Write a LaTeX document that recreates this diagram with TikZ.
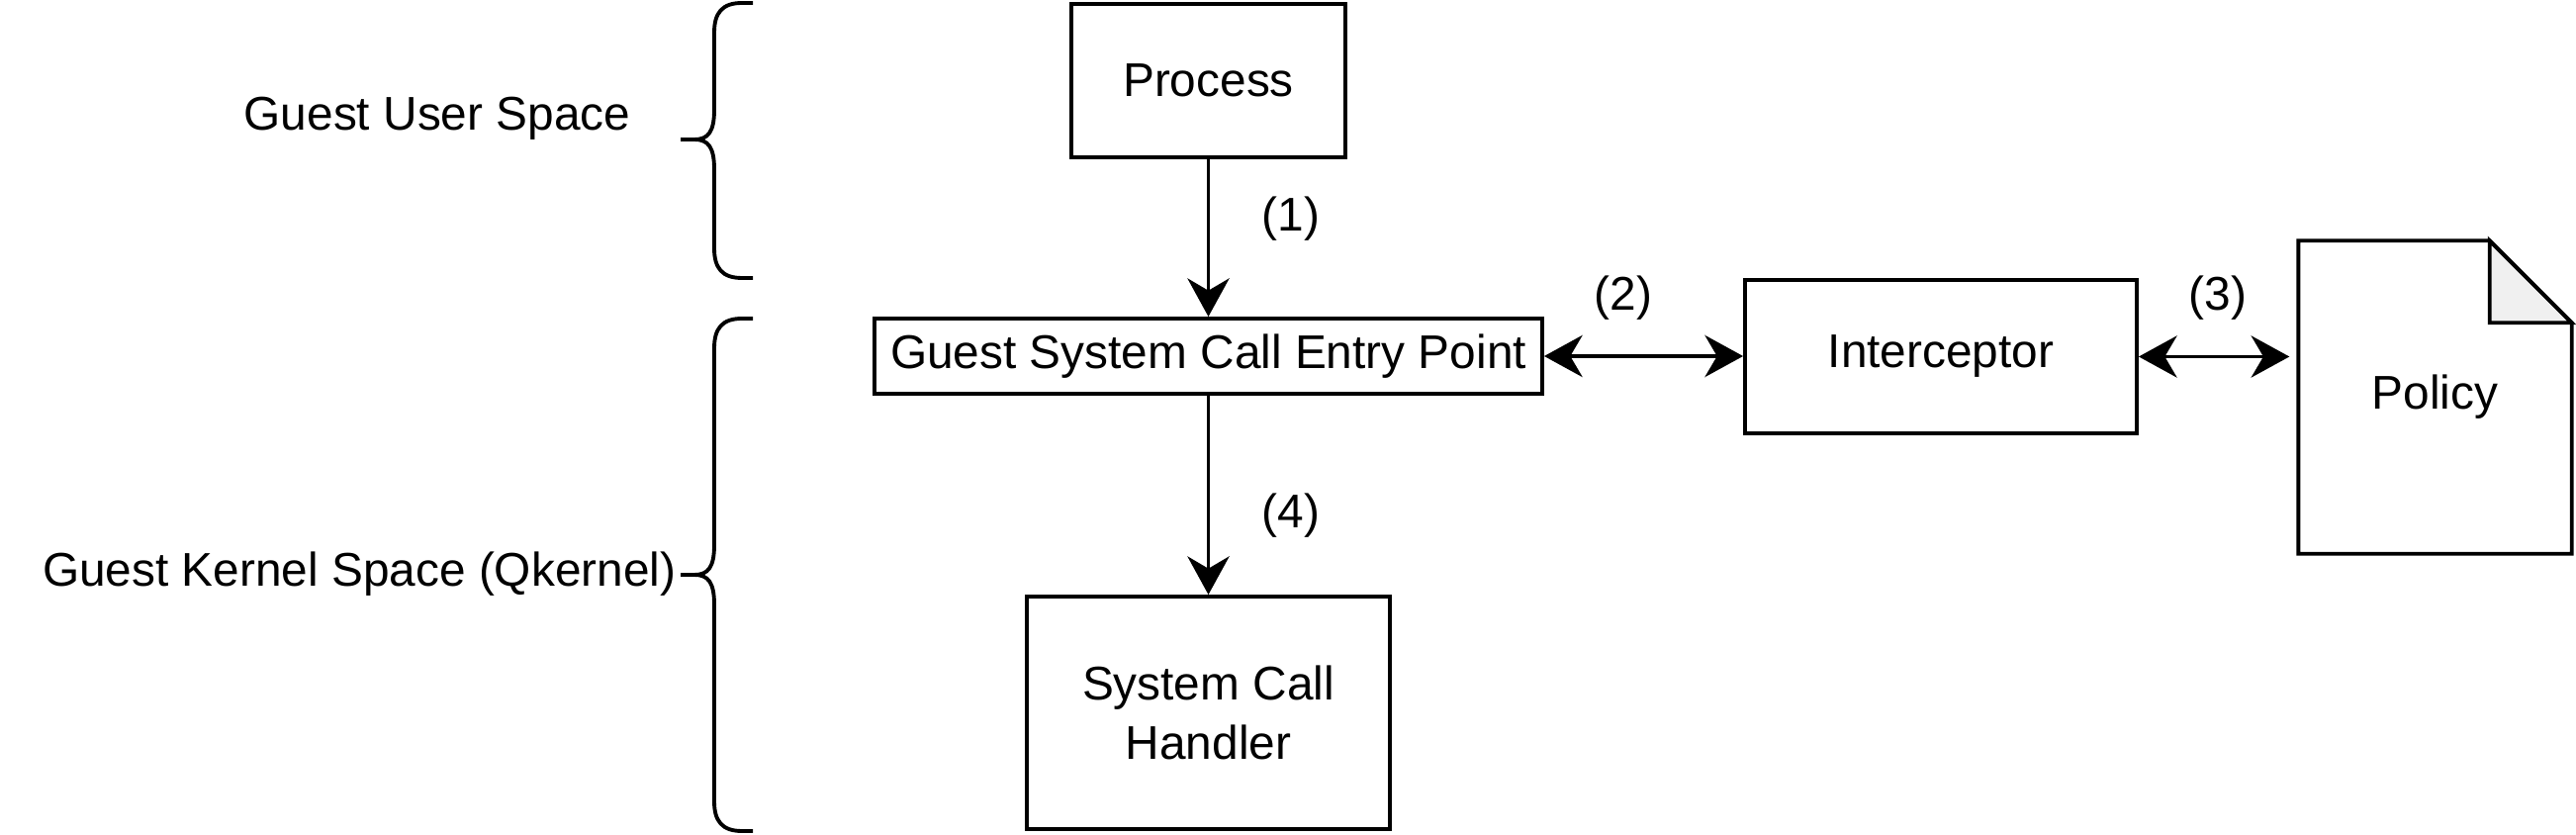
\documentclass[tikz,border=0pt]{standalone}
\usepackage{tikz}
\usetikzlibrary{shapes,arrows,arrows.meta,calc,positioning}
\usepackage{xcolor}
\usepackage{fontspec}
\setmainfont{Liberation Sans}
\definecolor{foldgray}{HTML}{F0F0F0}
\tikzstyle{flow} = [line width=1.1pt, ->, >={Stealth[length=11pt,width=12pt,inset=3.5pt]}]
\tikzstyle{box} = [draw, line width=1.1pt, inner sep=0pt, align=center]

\begin{document}
\begin{tikzpicture}[every node/.style={font=\fontsize{13.6}{17}\selectfont}]
\useasboundingbox (0,0) rectangle (26.04,-8.44);

\node[box,minimum width=2.77cm,minimum height=1.55cm] (proc) at (12.215,-0.815){Process};
\node[box,minimum width=6.75cm,minimum height=0.76cm] (entry) at (12.215,-3.60){Guest System Call Entry Point};
\node[box,minimum width=3.96cm,minimum height=1.55cm] (icpt) at (19.62,-3.605){Interceptor};
\node[box,minimum width=3.67cm,minimum height=2.35cm] (handler) at (12.215,-7.205){System Call\\Handler};
\node[inner sep=0pt,minimum width=2.75cm,minimum height=3.15cm] (policy) at (24.615,-4.015){Policy};

% policy page with folded corner
\draw[line width=1.1pt] (policy.north west) -- ($(policy.north east)+(-0.83,0)$) -- ($(policy.north east)+(0,-0.83)$) -- (policy.south east) -- (policy.south west) -- cycle;
\draw[line width=1.1pt,fill=foldgray] ($(policy.north east)+(-0.83,0)$) -- ($(policy.north east)+(-0.83,-0.83)$) -- ($(policy.north east)+(0,-0.83)$) -- cycle;

\draw[flow] (proc) -- (entry);
\draw[flow] (entry) -- (handler);
\draw[flow,<->] (entry.east) -- (entry.east -| icpt.west);
\draw[flow,<->] (icpt.east) -- ($(icpt.east -| policy.west)+(-0.09,0)$);

\node (lab1) at (13.05,-2.21){(1)};
\node (lab2) at (16.41,-3.01){(2)};
\node (lab3) at (22.42,-3.01){(3)};
\node (lab4) at (13.05,-5.21){(4)};

\node (user) at (4.42,-1.20){Guest User Space};
\node[anchor=east,inner sep=0pt] (kernel) at (6.84,-5.80){Guest Kernel Space (Qkernel)};

% braces
\foreach \ya/\ym/\yb in {-0.03/-1.41/-2.81, -3.22/-5.81/-8.40} {
\draw[line width=1.1pt] (7.61,\ya) -- (7.50,\ya) .. controls (7.30,\ya) and (7.22,\ya-0.1) .. (7.22,\ya-0.3) -- (7.22,\ym+0.3) .. controls (7.22,\ym+0.08) and (7.16,\ym) .. (7.02,\ym) -- (6.88,\ym) (7.02,\ym) .. controls (7.16,\ym) and (7.22,\ym-0.08) .. (7.22,\ym-0.3) -- (7.22,\yb+0.3) .. controls (7.22,\yb+0.1) and (7.30,\yb) .. (7.50,\yb) -- (7.61,\yb); }

\end{tikzpicture}
\end{document}
